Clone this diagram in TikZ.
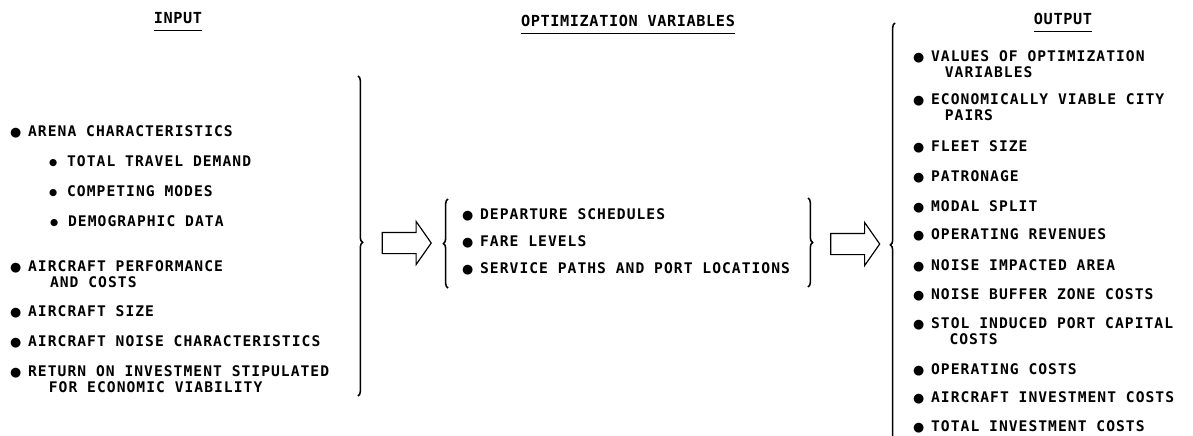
\documentclass[tikz,border=0pt]{standalone}
\usepackage{fontspec}
\newfontfamily\listfont[LetterSpace=7]{DejaVu Sans Mono}
\newfontfamily\headfont[LetterSpace=4]{DejaVu Sans Mono}
\newfontfamily\dotfont{DejaVu Sans}
\usetikzlibrary{positioning, calc, shapes.arrows, decorations.pathreplacing}

\newcommand{\bul}{\makebox[15.3pt][l]{\dotfont\fontsize{11}{11}\selectfont ●}}
\newcommand{\subbul}{\makebox[15.3pt][l]{\dotfont\fontsize{8}{8}\selectfont\raisebox{0.8pt}{●}}}

\tikzset{
  item/.style={anchor=north west, inner sep=0pt, align=left,
    font=\listfont\bfseries\fontsize{12.5}{14}\selectfont},
  heading/.style={inner sep=0pt, font=\headfont\bfseries\fontsize{13}{14}\selectfont},
  curly/.style={decorate, decoration={brace, amplitude=0.14cm, aspect=#1}, line width=1.3pt},
  bigarrow/.style={single arrow, draw, line width=1pt, minimum height=1.47cm,
    inner sep=0.3cm, single arrow head extend=0.33cm, single arrow tip angle=110}
}

\begin{document}
\begin{tikzpicture}[x=0.03cm, y=-0.03cm]
        \useasboundingbox (0,0) rectangle (1193,435);
        % Headings
        \node[heading] (hdIn) at (178,18) {INPUT};
        \node[heading] (hdOpt) at (628,21) {OPTIMIZATION VARIABLES};
        \node[heading] (hdOut) at (1063,19) {OUTPUT};
        \foreach \h in {hdIn, hdOpt, hdOut}
          \draw[line width=1.4pt] ([yshift=-0.2cm]\h.south west) -- ([yshift=-0.2cm]\h.south east);
        % Input list
        \node[item] (arena) at (10,125) {\bul ARENA CHARACTERISTICS};
        \node[item] (travel) at (49,155) {\subbul TOTAL TRAVEL DEMAND};
        \node[item] (modes) at (49,185) {\subbul COMPETING MODES};
        \node[item] (demo) at (50,215) {\subbul DEMOGRAPHIC DATA};
        \node[item] (perf) at (10,260) {\bul AIRCRAFT PERFORMANCE\\\hspace*{34pt}AND COSTS};
        \node[item] (size) at (10,305) {\bul AIRCRAFT SIZE};
        \node[item] (noise) at (10,335) {\bul AIRCRAFT NOISE CHARACTERISTICS};
        \node[item] (roi) at (10,365) {\bul RETURN ON INVESTMENT STIPULATED\\\hspace*{33pt}FOR ECONOMIC VIABILITY};
        % Optimization variables
        \node[item] (dep) at (462,208) {\bul DEPARTURE SCHEDULES};
        \node[item] (fare) at (462,235) {\bul FARE LEVELS};
        \node[item] (path) at (462,262) {\bul SERVICE PATHS AND PORT LOCATIONS};
        % Output list
        \node[item] (vals) at (913,50) {\bul VALUES OF OPTIMIZATION\\\hspace*{27pt}VARIABLES};
        \node[item] (pairs) at (913,93) {\bul ECONOMICALLY VIABLE CITY\\\hspace*{27pt}PAIRS};
        \node[item] (fleet) at (913,140) {\bul FLEET SIZE};
        \node[item] (patr) at (913,170) {\bul PATRONAGE};
        \node[item] (modal) at (913,200) {\bul MODAL SPLIT};
        \node[item] (rev) at (913,228) {\bul OPERATING REVENUES};
        \node[item] (area) at (913,259) {\bul NOISE IMPACTED AREA};
        \node[item] (buffer) at (913,288) {\bul NOISE BUFFER ZONE COSTS};
        \node[item] (stol) at (913,317) {\bul STOL INDUCED PORT CAPITAL\\\hspace*{31pt}COSTS};
        \node[item] (opc) at (913,363) {\bul OPERATING COSTS};
        \node[item] (acinv) at (913,391) {\bul AIRCRAFT INVESTMENT COSTS};
        \node[item] (totinv) at (913,420) {\bul TOTAL INVESTMENT COSTS};
        % Braces
        \coordinate (inTip) at (363,243);
        \coordinate (optTipL) at (443,243);
        \coordinate (optTipR) at (813,243);
        \coordinate (outTip) at (890,245);
        \draw[curly=0.52] (358,76) -- (358,396);
        \draw[curly=0.5] (448,288) -- (448,199);
        \draw[curly=0.5] (808,198) -- (808,287);
        \draw[curly=0.474] (895,445) -- (895,23);
        % Block arrows
        \node[bigarrow] (arIn) at ($(inTip)!0.5!(optTipL)$) {};
        \node[bigarrow] (arOut) at ($(optTipR)!0.5!(outTip)$) {};
\end{tikzpicture}
\end{document}
